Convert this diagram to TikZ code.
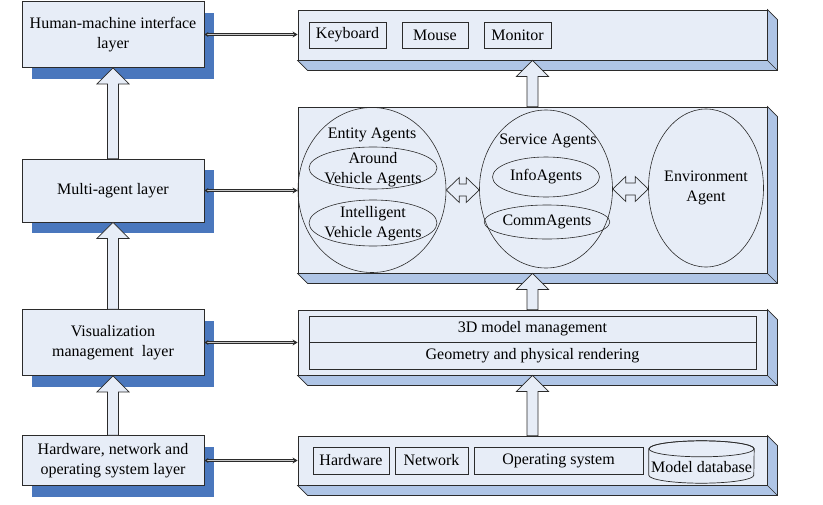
\documentclass[tikz,border=0pt]{standalone}
\usepackage{fontspec}
\setmainfont{Liberation Serif}
\usetikzlibrary{shapes.geometric,shadows,calc,arrows.meta}
\definecolor{boxfill}{HTML}{E7EDF7}
\definecolor{bevelc}{HTML}{AFC5E6}
\definecolor{shadowblue}{HTML}{4A77BD}
\definecolor{linecol}{HTML}{2B2B2B}
\newcommand\fs{\fontsize{16}{20}\selectfont}
\tikzset{
  lbox/.style={draw=linecol, line width=0.8pt, fill=boxfill, inner sep=0pt, align=center,
    minimum width=182pt, drop shadow={shadow xshift=10pt, shadow yshift=-11pt, fill=shadowblue, opacity=1}},
  rbox/.style={draw=linecol, line width=0.8pt, fill=boxfill, minimum width=469pt, inner sep=0pt},
  ibox/.style={draw=linecol, line width=0.7pt, inner sep=0pt, minimum height=26pt},
  ell/.style={ellipse, draw=linecol, line width=0.6pt, inner sep=0pt},
  txt/.style={align=center, inner sep=0pt},
  link/.style={draw=linecol, double=gray!45, double distance=1.3pt, line width=0.85pt,
    {Stealth[length=4pt,width=5pt]}-{Stealth[length=5pt,width=6pt]}},
  blk/.style={fill=boxfill, draw=linecol, line width=0.7pt, line join=miter},
  bev/.style={fill=bevelc, draw=linecol, line width=0.7pt, line join=miter},
}
\newcommand\bevel[1]{%
  \filldraw[bev] (#1.north east) -- ($(#1.north east)+(10,10)$) -- ($(#1.south east)+(10,10)$)
    -- ($(#1.south west)+(10,10)$) -- (#1.south west) -- (#1.south east) -- cycle;
  \draw[linecol, line width=0.7pt] (#1.south east) -- ++(10,10);}
\newcommand\upblk[2]{%
  \filldraw[blk] let \p1=(#1), \p2=(#2) in
    (\x1-5.5pt,\y1) -- (\x1-5.5pt,\y2-16pt) -- (\x1-16pt,\y2-16pt) -- (\x1,\y2)
    -- (\x1+16pt,\y2-16pt) -- (\x1+5.5pt,\y2-16pt) -- (\x1+5.5pt,\y1) -- cycle;}
\newcommand\hblk[2]{%
  \filldraw[blk] let \p1=(#1), \p2=(#2) in
    (\x1,\y1) -- (\x1+13pt,\y1+12.5pt) -- (\x1+13pt,\y1+6pt) -- (\x2-13pt,\y1+6pt)
    -- (\x2-13pt,\y1+12.5pt) -- (\x2,\y1) -- (\x2-13pt,\y1-12.5pt) -- (\x2-13pt,\y1-6pt)
    -- (\x1+13pt,\y1-6pt) -- (\x1+13pt,\y1-12.5pt) -- cycle;}
\begin{document}
\begin{tikzpicture}[x=1pt,y=-1pt,font=\fs]
\useasboundingbox (0,0) rectangle (823,504);

% left layer boxes
\node[lbox, minimum height=66pt] (hmiL) at (113,34.5) {Human-machine interface\\layer};
\node[lbox, minimum height=63pt] (maL) at (113,190.5) {Multi-agent layer};
\node[lbox, minimum height=66pt] (visL) at (113,342.5) {Visualization\\management\ \ layer};
\node[lbox, minimum height=50pt] (hwL) at (113,460.5) {Hardware, network and\\operating system layer};

% right boxes
\node[rbox, minimum height=50pt] (hmiR) at (532.5,35) {};
\node[rbox, minimum height=166pt] (maR) at (532.5,190) {};
\node[rbox, minimum height=65pt] (visR) at (532.5,342.5) {};
\node[rbox, minimum height=49pt] (hwR) at (532.5,460.5) {};
\bevel{hmiR}
\bevel{maR}
\bevel{visR}
\bevel{hwR}

% top box contents
\node[ibox, minimum width=77pt] (kb) at (347.5,35) {Keyboard};
\node[ibox, minimum width=66pt] (ms) at (435,35) {Mouse};
\node[ibox, minimum width=67pt] (mon) at (517.5,35) {Monitor};

% multi-agent contents
\node[ell, minimum width=148pt, minimum height=165pt] (ent) at (372,190) {};
\node[txt] (entT) at (372,135) {Entity Agents};
\node[ell, minimum width=128pt, minimum height=42pt] (arv) at (373,168) {};
\node[txt] (arvT) at (373,170) {Around\\Vehicle Agents};
\node[ell, minimum width=128pt, minimum height=46pt] (itv) at (373,223) {};
\node[txt] (itvT) at (373,224) {Intelligent\\Vehicle Agents};
\node[ell, minimum width=133pt, minimum height=158pt] (svc) at (546,189) {};
\node[txt] (svcT) at (548,141) {Service Agents};
\node[ell, minimum width=107pt, minimum height=40pt] (info) at (546,177) {InfoAgents};
\node[ell, minimum width=115pt, minimum height=34pt] (comm) at (547,222) {CommAgents};
\node[ell, minimum width=115pt, minimum height=158pt] (env) at (706,188) {};
\node[txt] (envT) at (706,188) {Environment\\Agent};
\hblk{ent.east}{svc.west}
\hblk{svc.east}{env.west}

% visualization contents
\node[ibox, minimum width=447pt, minimum height=26pt] (m3d) at (532.5,329) {3D model management};
\node[ibox, minimum width=447pt, minimum height=27pt] (geo) at (532.5,355.5) {Geometry and physical rendering};

% hardware contents
\node[ibox, minimum width=76pt, minimum height=27pt] (hw) at (351,460.5) {Hardware};
\node[ibox, minimum width=73pt, minimum height=27pt] (net) at (431.5,460.5) {Network};
\node[ibox, minimum width=169pt, minimum height=27pt] (os) at (558.5,460.5) {Operating system};
\node[inner sep=0pt, minimum width=105pt, minimum height=42pt] (db) at (701.5,462) {};
\filldraw[fill=boxfill, draw=linecol, line width=0.7pt]
  ($(db.north west)+(0,8)$) -- ($(db.south west)+(0,-8)$)
  arc[start angle=180, end angle=0, x radius=52.5, y radius=8]
  -- ($(db.north east)+(0,8)$)
  arc[start angle=0, end angle=-180, x radius=52.5, y radius=8] -- cycle;
\draw[linecol, line width=0.7pt] ($(db.north)+(0,8)$) ellipse[x radius=52.5, y radius=8];
\node[txt] (dbT) at (701.5,467) {Model database};

% horizontal links
\draw[link] (hmiL.east) -- (hmiL.east -| hmiR.west);
\draw[link] (maL.east) -- (maL.east -| maR.west);
\draw[link] (visL.east) -- (visL.east -| visR.west);
\draw[link] (hwL.east) -- (hwL.east -| hwR.west);

% block arrows
\upblk{hwL.north}{visL.south}
\upblk{visL.north}{maL.south}
\upblk{maL.north}{hmiL.south}
\upblk{hwR.north}{visR.south}
\upblk{visR.north}{maR.south}
\upblk{maR.north}{hmiR.south}
\end{tikzpicture}
\end{document}
